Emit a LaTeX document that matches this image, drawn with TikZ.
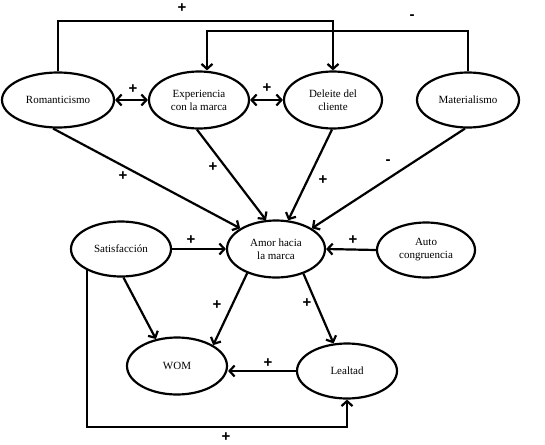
\documentclass[tikz,border=0pt]{standalone}
\usepackage{fontspec}
\setmainfont{Liberation Serif}
\setsansfont{Liberation Sans}
\usetikzlibrary{shapes.geometric,arrows.meta}
\begin{document}
\begin{tikzpicture}[x=1pt,y=-1pt,
 ell/.style={ellipse,draw,line width=2.2pt,inner sep=0pt,align=center,font=\fontsize{11}{13}\selectfont},
 conn/.style={line width=2.2pt},
 arr/.style={conn,-{Straight Barb[length=5pt,width=11pt]}},
 barr/.style={conn,{Straight Barb[length=5pt,width=11pt]}-{Straight Barb[length=5pt,width=11pt]}},
 lbl/.style={font=\sffamily\bfseries\fontsize{15}{15}\selectfont,inner sep=0pt}]
\useasboundingbox (0,0) rectangle (545,444);
% nodes
\node[ell,minimum width=112pt,minimum height=55pt] (rom) at (58,100) {Romanticismo};
\node[ell,minimum width=100pt,minimum height=57pt] (exp) at (199,100) {Experiencia\\con la marca};
\node[ell,minimum width=98pt,minimum height=57pt] (del) at (333,100) {Deleite del\\cliente};
\node[ell,minimum width=102pt,minimum height=55pt] (mat) at (468,100) {Materialismo};
\node[ell,minimum width=98pt,minimum height=57pt] (amor) at (276,249) {Amor hacia\\la marca};
\node[ell,minimum width=100pt,minimum height=55pt] (sat) at (121,249) {Satisfacción};
\node[ell,minimum width=98pt,minimum height=55pt] (auto) at (426,250) {Auto\\congruencia};
\node[ell,minimum width=100pt,minimum height=57pt] (wom) at (177,366) {WOM};
\node[ell,minimum width=100pt,minimum height=55pt] (lea) at (347,371) {Lealtad};
% helper coordinates
\coordinate (t1) at (200,21);
\coordinate (t2) at (300,31);
\coordinate (cb) at (200,427);
% top connectors
\draw[arr] (rom.north) |- (t1) -| (del.north);
\draw[arr] (mat.north) |- (t2) -| ([xshift=8pt]exp.north);
% bidirectional
\draw[barr] (rom.east) -- (exp.west);
\draw[barr] (exp.east) -- (del.west);
% into amor
\draw[arr] (rom.-100) -- (amor.150);
\draw[arr] (exp.-94) -- (amor.109);
\draw[arr] (del.-92) -- (amor.67);
\draw[arr] (mat.-96) -- (amor.30);
\draw[arr] (sat.east) -- (amor.west);
\draw[arr] (auto.west) -- (amor.east);
% bottom
\draw[arr] (sat.-85) -- (wom.128);
\draw[arr] (amor.-140) -- (wom.30);
\draw[arr] (amor.-42) -- (lea.116);
\draw[arr] (lea.west) -- (lea.west -| wom.east);
\draw[arr] (sat.-148) |- (cb) -| (lea.south);
% labels
\node[lbl] (l1) at (182,8) {+};
\node[lbl] (l2) at (412,17) {-};
\node[lbl] (l3) at (133,89) {+};
\node[lbl] (l4) at (267,88) {+};
\node[lbl] (l5) at (123,176) {+};
\node[lbl] (l6) at (213,167) {+};
\node[lbl] (l7) at (323,180) {+};
\node[lbl] (l8) at (388,162) {-};
\node[lbl] (l9) at (191,240) {+};
\node[lbl] (l10) at (353,240) {+};
\node[lbl] (l11) at (217,305) {+};
\node[lbl] (l12) at (307,303) {+};
\node[lbl] (l13) at (268,363) {+};
\node[lbl] (l14) at (226,437) {+};
\end{tikzpicture}
\end{document}
